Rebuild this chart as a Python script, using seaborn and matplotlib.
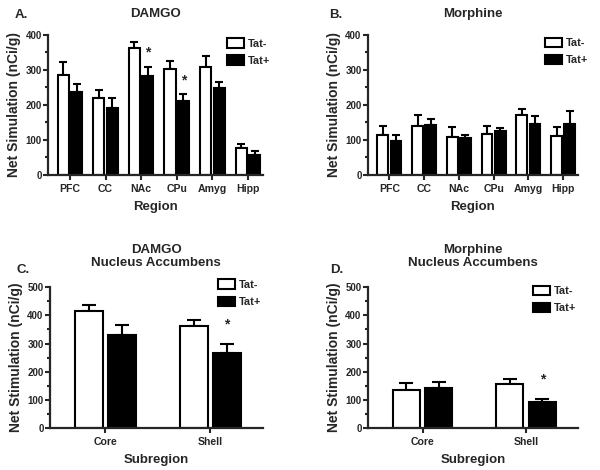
import numpy as np
import pandas as pd
import matplotlib
matplotlib.use("Agg")
import matplotlib.pyplot as plt
from matplotlib.patches import Patch
from matplotlib.ticker import MultipleLocator
import seaborn as sns

sns.set_style("ticks")
plt.rcParams['font.family'] = ['Liberation Sans', 'DejaVu Sans']
plt.rcParams['font.weight'] = 'bold'

# -------------------
# Data
# -------------------
regions = ["PFC", "CC", "NAc", "CPu", "Amyg", "Hipp"]
subregions = ["Core", "Shell"]
groups = ["Tat-", "Tat+"]

damgo_tat_neg = [286, 219, 361, 302, 307, 76]
damgo_tat_neg_err = [35, 23, 17, 22, 33, 12]
damgo_tat_pos = [236, 190, 283, 210, 249, 56]
damgo_tat_pos_err = [24, 29, 26, 21, 17, 11]

morph_tat_neg = [114, 139, 109, 117, 170, 110]
morph_tat_neg_err = [25, 32, 28, 22, 18, 26]
morph_tat_pos = [97, 141, 105, 125, 146, 146]
morph_tat_pos_err = [18, 18, 10, 10, 21, 35]

nac_damgo_tat_neg = [417, 363]
nac_damgo_tat_neg_err = [19, 20]
nac_damgo_tat_pos = [331, 265]
nac_damgo_tat_pos_err = [34, 35]

nac_morph_tat_neg = [135, 155]
nac_morph_tat_neg_err = [25, 19]
nac_morph_tat_pos = [141, 92]
nac_morph_tat_pos_err = [22, 11]

# significance stars: category index, on the Tat+ bar
stars_a = [2, 3]
stars_b = []
stars_c = [1]
stars_d = [1]

palette = {"Tat-": "white", "Tat+": "black"}


def long_df(cats, neg, pos):
    return pd.DataFrame({
        "cat": cats * 2,
        "group": ["Tat-"] * len(cats) + ["Tat+"] * len(cats),
        "val": neg + pos,
    })


def draw_panel(ax, cats, neg, neg_err, pos, pos_err, stars, ymax, width, gap,
               xlim, cap, star_off, leg_anchor):
    df = long_df(cats, neg, pos)
    sns.barplot(data=df, x="cat", y="val", hue="group", hue_order=groups,
                palette=palette, edgecolor="black", linewidth=1.5,
                width=width, gap=gap, errorbar=None, legend=False, ax=ax)
    errs = [neg_err, pos_err]
    for cont, err in zip(ax.containers, errs):
        xs = [p.get_x() + p.get_width() / 2 for p in cont.patches]
        ys = [p.get_height() for p in cont.patches]
        ax.errorbar(xs, ys, yerr=[np.zeros(len(err)), err], fmt="none",
                    ecolor="black", elinewidth=1.5, capsize=cap, capthick=1.5,
                    zorder=0.5)
    tp = ax.containers[1].patches
    for i in stars:
        p = tp[i]
        ax.annotate("*", (p.get_x() + p.get_width() / 2, p.get_height() + pos_err[i]),
                    xytext=(0, star_off), textcoords="offset points",
                    ha="center", va="center", fontsize=10, fontweight="bold")
    ax.set_ylim(0, ymax)
    ax.set_xlim(*xlim)
    ax.set_xlabel("")
    ax.yaxis.set_major_locator(MultipleLocator(100))
    ax.yaxis.set_minor_locator(MultipleLocator(50))
    ax.tick_params(axis="both", which="major", width=1.5, length=3.5, labelsize=7)
    ax.tick_params(axis="x", labelsize=7.6, pad=3)
    ax.tick_params(axis="y", which="minor", width=1.5, length=2)
    ax.tick_params(axis="y", pad=1)
    for lab in ax.get_xticklabels() + ax.get_yticklabels():
        lab.set_fontweight("bold")
    for s in ["left", "bottom"]:
        ax.spines[s].set_linewidth(1.6)
    sns.despine(ax=ax)
    handles = [Patch(facecolor=palette[g], edgecolor="black", linewidth=1.5, label=g)
               for g in groups]
    ax.legend(handles=handles, loc="upper left", bbox_to_anchor=leg_anchor,
              frameon=False, borderpad=0, borderaxespad=0, handlelength=1.55,
              handleheight=0.95, handletextpad=0.4, labelspacing=0.6,
              prop={"weight": "bold", "size": 7.9})


fig = plt.figure(figsize=(6, 4.7), dpi=100)
ax_a = fig.add_axes([0.080, 0.628, 0.358, 0.298])
ax_b = fig.add_axes([0.613, 0.628, 0.350, 0.298])
ax_c = fig.add_axes([0.083, 0.089, 0.355, 0.300])
ax_d = fig.add_axes([0.613, 0.089, 0.350, 0.300])

draw_panel(ax_a, regions, damgo_tat_neg, damgo_tat_neg_err, damgo_tat_pos,
           damgo_tat_pos_err, stars_a, 400, 0.76, 0.18, (-0.62, 5.42), 3, 10,
           (0.833, 0.975))
draw_panel(ax_b, regions, morph_tat_neg, morph_tat_neg_err, morph_tat_pos,
           morph_tat_pos_err, stars_b, 400, 0.76, 0.18, (-0.62, 5.42), 3, 10,
           (0.843, 0.98))
draw_panel(ax_c, subregions, nac_damgo_tat_neg, nac_damgo_tat_neg_err,
           nac_damgo_tat_pos, nac_damgo_tat_pos_err, stars_c, 500, 0.63, 0.17,
           (-0.53, 1.5), 5, 14, (0.789, 1.055))
draw_panel(ax_d, subregions, nac_morph_tat_neg, nac_morph_tat_neg_err,
           nac_morph_tat_pos, nac_morph_tat_pos_err, stars_d, 500, 0.63, 0.17,
           (-0.53, 1.5), 5, 14, (0.786, 1.01))

for ax in [ax_a, ax_b]:
    ax.set_xlabel("Region", fontsize=9.5, fontweight="bold", labelpad=5)
    ax.set_ylabel("Net Simulation (nCi/g)", fontsize=10, fontweight="bold", labelpad=3)
for ax in [ax_c, ax_d]:
    ax.set_xlabel("Subregion", fontsize=9.5, fontweight="bold", labelpad=5)
    ax.set_ylabel("Net Stimulation (nCi/g)", fontsize=10, fontweight="bold", labelpad=3)

ax_a.set_title("DAMGO", fontsize=9.5, fontweight="bold", pad=13)
ax_b.set_title("Morphine", fontsize=9.5, fontweight="bold", pad=13)
ax_c.set_title("DAMGO\nNucleus Accumbens", fontsize=9.5, fontweight="bold", pad=15,
               linespacing=1.1)
ax_d.set_title("Morphine\nNucleus Accumbens", fontsize=9.5, fontweight="bold", pad=15,
               linespacing=1.1)

fig.text(0.025, 0.968, "A.", fontsize=9.5, fontweight="bold", va="center")
fig.text(0.548, 0.968, "B.", fontsize=9.5, fontweight="bold", va="center")
fig.text(0.028, 0.425, "C.", fontsize=9.5, fontweight="bold", va="center")
fig.text(0.550, 0.425, "D.", fontsize=9.5, fontweight="bold", va="center")

fig.savefig("out.png", dpi=100)
